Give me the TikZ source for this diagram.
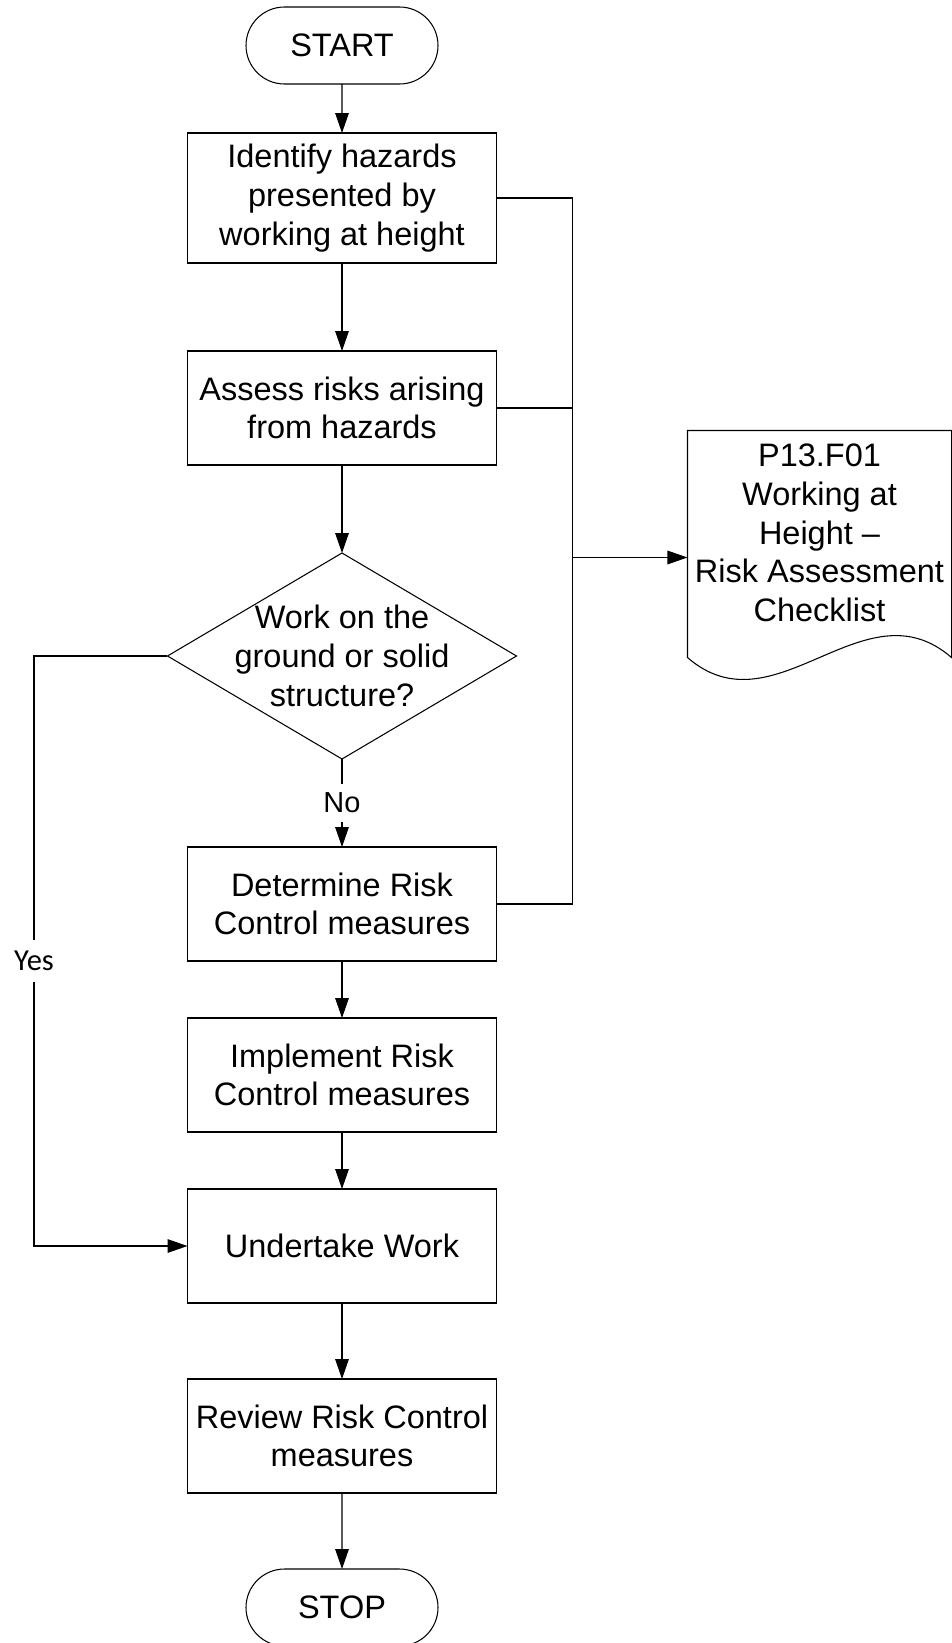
\documentclass[tikz,border=0pt]{standalone}
\usepackage{fontspec}
\setmainfont{Liberation Sans}
\newfontfamily\yesfont{Carlito}
\usepackage{tikz}
\usetikzlibrary{arrows.meta,positioning,shapes.geometric,shapes.misc}

\begin{document}
\begin{tikzpicture}[
        line width=0.75pt,
        >={Triangle[length=0.5cm,width=0.34cm]},
        every node/.style={font=\fontsize{23.1}{27.5}\selectfont},
        terminal/.style={draw, rounded rectangle, minimum width=4.8cm,
                         minimum height=1.925cm, inner sep=0pt, outer sep=0pt},
        process/.style={draw, rectangle, align=center, minimum width=7.725cm,
                        minimum height=2.85cm, inner sep=0pt, outer sep=0pt},
        decision/.style={draw, diamond, minimum width=8.725cm,
                         minimum height=5.15cm, inner sep=0pt, outer sep=0pt},
        docframe/.style={minimum width=6.575cm, minimum height=6.325cm, inner sep=0pt},
        answer/.style={fill=white, inner sep=0.22cm}]

                \useasboundingbox (0,0) rectangle (23.775,-41.075);

                % main column
                \node [terminal] (start) at (8.55,-1.1375) {START};
                \node [process, minimum height=3.25cm,
                        below = 1.225cm of start]
                                        (ident) {Identify hazards\\presented by\\working at height};
                \node [process, below = 2.2cm of ident]
                                        (assess) {Assess risks arising\\from hazards};
                \node [decision, below = 2.2cm of assess] (dec) {};
                \node [align=center] (decq) at (dec) {Work on the\\ground or solid\\structure?};
                \node [process, below = 2.2cm of dec]
                                        (det) {Determine Risk\\Control measures};
                \node [process, below = 1.425cm of det]
                                        (impl) {Implement Risk\\Control measures};
                \node [process, below = 1.425cm of impl]
                                        (work) {Undertake Work};
                \node [process, below = 1.9cm of work]
                                        (review) {Review Risk Control\\measures};
                \node [terminal, below = 1.9cm of review] (stop) {STOP};

                \draw [->] (start) -- (ident);
                \draw [->] (ident) -- (assess);
                \draw [->] (assess) -- (dec);
                \draw [->] (dec) -- node [answer, font=\fontsize{20.6}{24}\selectfont] (no) {No} (det);
                \draw [->] (det) -- (impl);
                \draw [->] (impl) -- (work);
                \draw [->] (work) -- (review);
                \draw [->] (review) -- (stop);

                % yes branch
                \node [answer, inner sep=0.27cm, font=\yesfont\fontsize{21.7}{26}\selectfont]
                                        (yes) at (0.85,-24.025) {Yes};
                \draw [->] (dec) -| (yes) |- (work);

                % checklist document
                \coordinate [right = 1.9cm of ident] (bus);
                \draw (ident) -- (bus) |- (det);
                \draw (assess) -- (assess -| bus);

                \node [docframe] (doc) at (20.4875,-13.9375) {};
                \draw (doc.north west) -- (doc.north east)
                        -- ([yshift=0.675cm]doc.south east)
                        .. controls +(-2.19,1.9) and +(2.19,-1.9) .. ([yshift=0.675cm]doc.south west)
                        -- cycle;
                \node [align=center] (doctext) at ([yshift=0.61cm]doc.center)
                                        {P13.F01\\Working at\\Height –\\Risk Assessment\\Checklist};
                \draw [->] (doc.west -| bus) -- (doc.west);
\end{tikzpicture}
\end{document}
